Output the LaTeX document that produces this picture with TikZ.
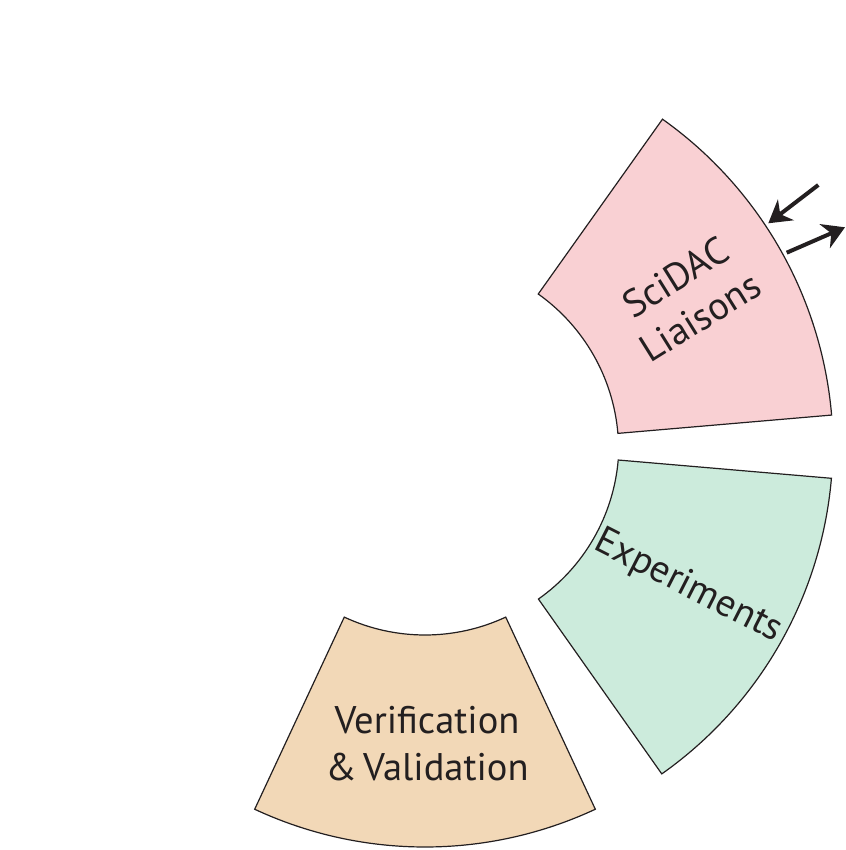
\documentclass[tikz,border=0pt]{standalone}
\usepackage{fontspec}
\setmainfont{PT Sans}
\usetikzlibrary{arrows.meta}
\definecolor{pinkfill}{RGB}{249,208,211}
\definecolor{greenfill}{RGB}{204,235,220}
\definecolor{tanfill}{RGB}{242,216,183}
\definecolor{inkc}{RGB}{35,31,32}
\tikzset{
  sector/.style={draw=inkc, line width=1.2pt, line join=miter},
  lbl/.style={text=inkc, font=\fontsize{38.5}{47}\selectfont, align=center, inner sep=0pt},
  flowline/.style={draw=inkc, line width=4pt, arrows={-Stealth[length=22pt,width=26pt,inset=7pt]}}
}
\begin{document}
\begin{tikzpicture}[x=1pt,y=1pt]
\useasboundingbox (0,0) rectangle (845,850);
% SciDAC Liaisons
\begin{scope}[shift={(427.6,400.3)}]
\fill[pinkfill] (4.9:191) arc[start angle=4.9,end angle=54.6,radius=191] -- (54.6:405.5) arc[start angle=54.6,end angle=4.9,radius=405.5] -- cycle;
\draw[sector] (4.9:191) arc[start angle=4.9,end angle=54.6,radius=191] -- (54.6:405.5) arc[start angle=54.6,end angle=4.9,radius=405.5] -- cycle;
\node[lbl, rotate=32] (sci) at (30.4:302) {SciDAC\\Liaisons};
\end{scope}
% Experiments
\begin{scope}[shift={(428.9,406.2)}]
\fill[greenfill] (-4.9:190) arc[start angle=-4.9,end angle=-54.8,radius=190] -- (-54.8:404) arc[start angle=-54.8,end angle=-4.9,radius=404] -- cycle;
\draw[sector] (-4.9:190) arc[start angle=-4.9,end angle=-54.8,radius=190] -- (-54.8:404) arc[start angle=-54.8,end angle=-4.9,radius=404] -- cycle;
\node[lbl, rotate=-27] (exp) at (-28.9:296) {Experiments};
\end{scope}
% Verification & Validation
\begin{scope}[shift={(425,406)}]
\fill[tanfill] (-115:191) arc[start angle=-115,end angle=-65,radius=191] -- (-65:403) arc[start angle=-65,end angle=-115,radius=403] -- cycle;
\draw[sector] (-115:191) arc[start angle=-115,end angle=-65,radius=191] -- (-65:403) arc[start angle=-65,end angle=-115,radius=403] -- cycle;
\end{scope}
\node[lbl] (vv) at (427,106) {Verification\\\&\,Validation};
% arrows
\coordinate (inS) at (818.3,665);
\coordinate (inE) at (768.3,626.7);
\coordinate (outS) at (786.7,597.3);
\coordinate (outE) at (845,622.7);
\draw[flowline] (inS) -- (inE);
\draw[flowline] (outS) -- (outE);
\end{tikzpicture}
\end{document}
